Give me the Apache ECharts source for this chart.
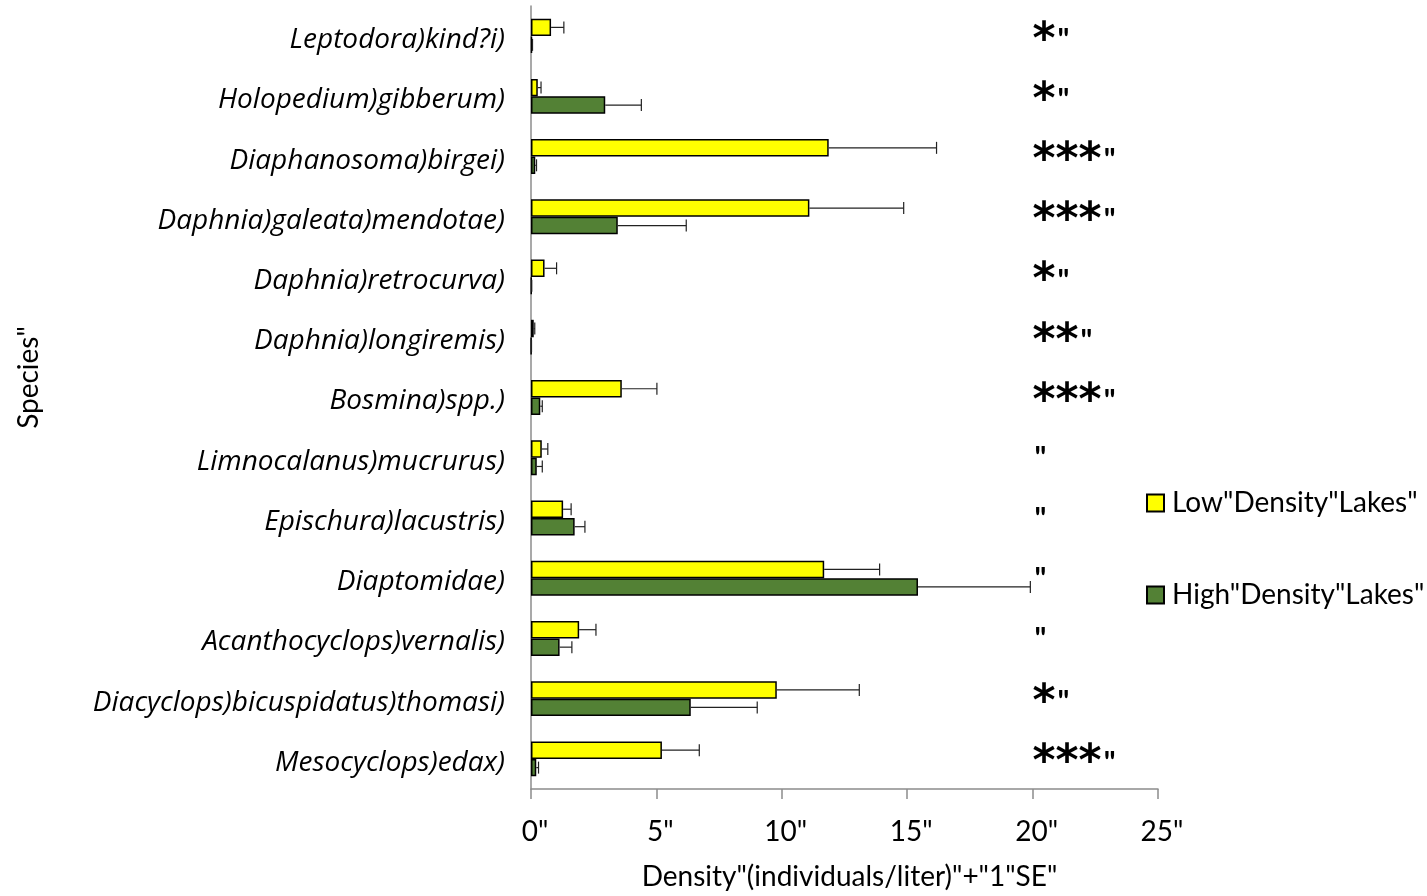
<!DOCTYPE html>
<html lang="en">
<head>
    <meta charset="UTF-8">
    <title>Zooplankton density</title>
    <script src="https://cdn.jsdelivr.net/npm/echarts@6/dist/echarts.min.js"></script>
    <style>
        body { margin: 0; background: #fff; }
    </style>
</head>
<body>
    <div id="app" style="width:1427px;height:896px;"></div>
    <script>
        // species names (as printed on the original)
        var species = ['Leptodora)kind?i)', 'Holopedium)gibberum)', 'Diaphanosoma)birgei)',
            'Daphnia)galeata)mendotae)', 'Daphnia)retrocurva)', 'Daphnia)longiremis)',
            'Bosmina)spp.)', 'Limnocalanus)mucrurus)', 'Epischura)lacustris)', 'Diaptomidae)',
            'Acanthocyclops)vernalis)', 'Diacyclops)bicuspidatus)thomasi)', 'Mesocyclops)edax)'];
        // mean density and 1 SE
        var lowMean = [0.8, 0.27, 11.87, 11.1, 0.54, 0.11, 3.62, 0.43, 1.28, 11.69, 1.92, 9.8, 5.22];
        var lowSE = [0.51, 0.13, 4.3, 3.76, 0.48, 0.04, 1.4, 0.24, 0.32, 2.21, 0.67, 3.29, 1.49];
        var highMean = [0.04, 2.96, 0.17, 3.46, 0.02, 0.01, 0.37, 0.23, 1.74, 15.43, 1.14, 6.37, 0.21];
        var highSE = [0.02, 1.44, 0.05, 2.73, 0.01, 0.01, 0.08, 0.22, 0.41, 4.48, 0.49, 2.65, 0.09];
        // significance marks (stars + trailing quote)
        var stars = ['*', '*', '***', '***', '*', '**', '***', '', '', '', '', '*', '***'];
        var signifAt = 20;
        var xTicks = ['0"', '5"', '10"', '15"', '20"', '25"'];

        var FONT = 'Lato, "Open Sans", sans-serif';
        var myChart = echarts.init(document.getElementById('app'));

        function errData(mean, se) {
            var out = [];
            for (var i = 0; i < mean.length; i++) {
                out.push([i, mean[i], se[i]]);
            }
            return out;
        }

        // error bar drawn beside its bar; sign = -1 upper bar, +1 lower bar
        function errRender(sign) {
            return function (params, api) {
                var cat = api.value(0);
                var m = api.value(1);
                var se = api.value(2);
                var band = api.size([0, 1])[1];
                var off = sign * band * 0.29 / 2;
                var p0 = api.coord([m, cat]);
                var p1 = api.coord([m + se, cat]);
                var st = { stroke: '#222', lineWidth: 1.2 };
                return {
                    type: 'group',
                    children: [{
                        type: 'line',
                        shape: { x1: p0[0], y1: p0[1] + off, x2: p1[0], y2: p1[1] + off },
                        style: st
                    }, {
                        type: 'line',
                        shape: { x1: p1[0], y1: p1[1] + off - 6, x2: p1[0], y2: p1[1] + off + 6 },
                        style: st
                    }]
                };
            };
        }

        var option = {
            backgroundColor: '#fff',
            animation: false,
            grid: { left: 531, right: 269, top: 6, bottom: 106 },
            legend: {
                data: ['Low"Density"Lakes"', 'High"Density"Lakes"'],
                orient: 'vertical',
                left: 1146,
                top: 489,
                padding: 0,
                itemWidth: 17,
                itemHeight: 17,
                itemGap: 64,
                icon: 'rect',
                textStyle: { fontFamily: FONT, fontSize: 28, color: '#000', padding: [0, 0, 0, 3] }
            },
            xAxis: {
                type: 'value',
                min: 0,
                max: 25,
                interval: 5,
                splitLine: { show: false },
                axisLine: { show: true, lineStyle: { color: '#8c8c8c', width: 1.5 } },
                axisTick: { show: true, length: 10, lineStyle: { color: '#8c8c8c', width: 1.5 } },
                axisLabel: {
                    margin: 29,
                    fontFamily: FONT,
                    fontSize: 28,
                    color: '#000',
                    padding: [0, 0, 0, 8],
                    formatter: function (v) { return xTicks[v / 5]; }
                },
                name: 'Density"(individuals/liter)"+"1"SE"',
                nameLocation: 'middle',
                nameGap: 74,
                nameTextStyle: { fontFamily: FONT, fontSize: 28, color: '#000', padding: [0, 0, 0, 10] }
            },
            yAxis: {
                type: 'category',
                data: species,
                inverse: true,
                axisLine: { lineStyle: { color: '#8c8c8c', width: 1.5 } },
                axisTick: { length: 8, lineStyle: { color: '#8c8c8c', width: 1.5 } },
                axisLabel: {
                    margin: 26,
                    fontFamily: '"Open Sans", sans-serif',
                    fontSize: 28,
                    fontStyle: 'italic',
                    color: '#000',
                    verticalAlign: 'top',
                    lineHeight: 8
                },
                name: 'Species"',
                nameLocation: 'middle',
                nameGap: 488,
                nameTextStyle: { fontFamily: FONT, fontSize: 28, color: '#000', padding: [0, 0, 0, 40] }
            },
            series: [{
                name: 'Low"Density"Lakes"',
                type: 'bar',
                data: lowMean,
                barGap: '0%',
                barCategoryGap: '42%',
                itemStyle: { color: '#ffff00', borderColor: '#000', borderWidth: 1.5 }
            }, {
                name: 'High"Density"Lakes"',
                type: 'bar',
                data: highMean,
                itemStyle: { color: '#538135', borderColor: '#000', borderWidth: 1.5 }
            }, {
                type: 'custom',
                data: errData(lowMean, lowSE),
                encode: { x: [1], y: 0 },
                renderItem: errRender(-1),
                z: 3
            }, {
                type: 'custom',
                data: errData(highMean, highSE),
                encode: { x: [1], y: 0 },
                renderItem: errRender(1),
                z: 3
            }, {
                type: 'custom',
                data: stars.map(function (s, i) { return [i, signifAt]; }),
                encode: { x: 1, y: 0 },
                renderItem: function (params, api) {
                    var p = api.coord([api.value(1), api.value(0)]);
                    var s = stars[params.dataIndex];
                    return {
                        type: 'text',
                        x: p[0],
                        y: p[1] + 5,
                        style: {
                            text: (s ? '{a|' + s + '}' : '') + '{q|"}',
                            align: 'left',
                            verticalAlign: 'middle',
                            rich: {
                                a: { fontFamily: '"DejaVu Sans", sans-serif', fontSize: 44, fontWeight: 'bold', fill: '#000', verticalAlign: 'bottom' },
                                q: { fontFamily: FONT, fontSize: 30, fontWeight: 'bold', fill: '#000', verticalAlign: 'bottom', padding: [0, 0, 8, 2] }
                            }
                        }
                    };
                }
            }]
        };
        myChart.setOption(option);
    </script>
</body>
</html>
